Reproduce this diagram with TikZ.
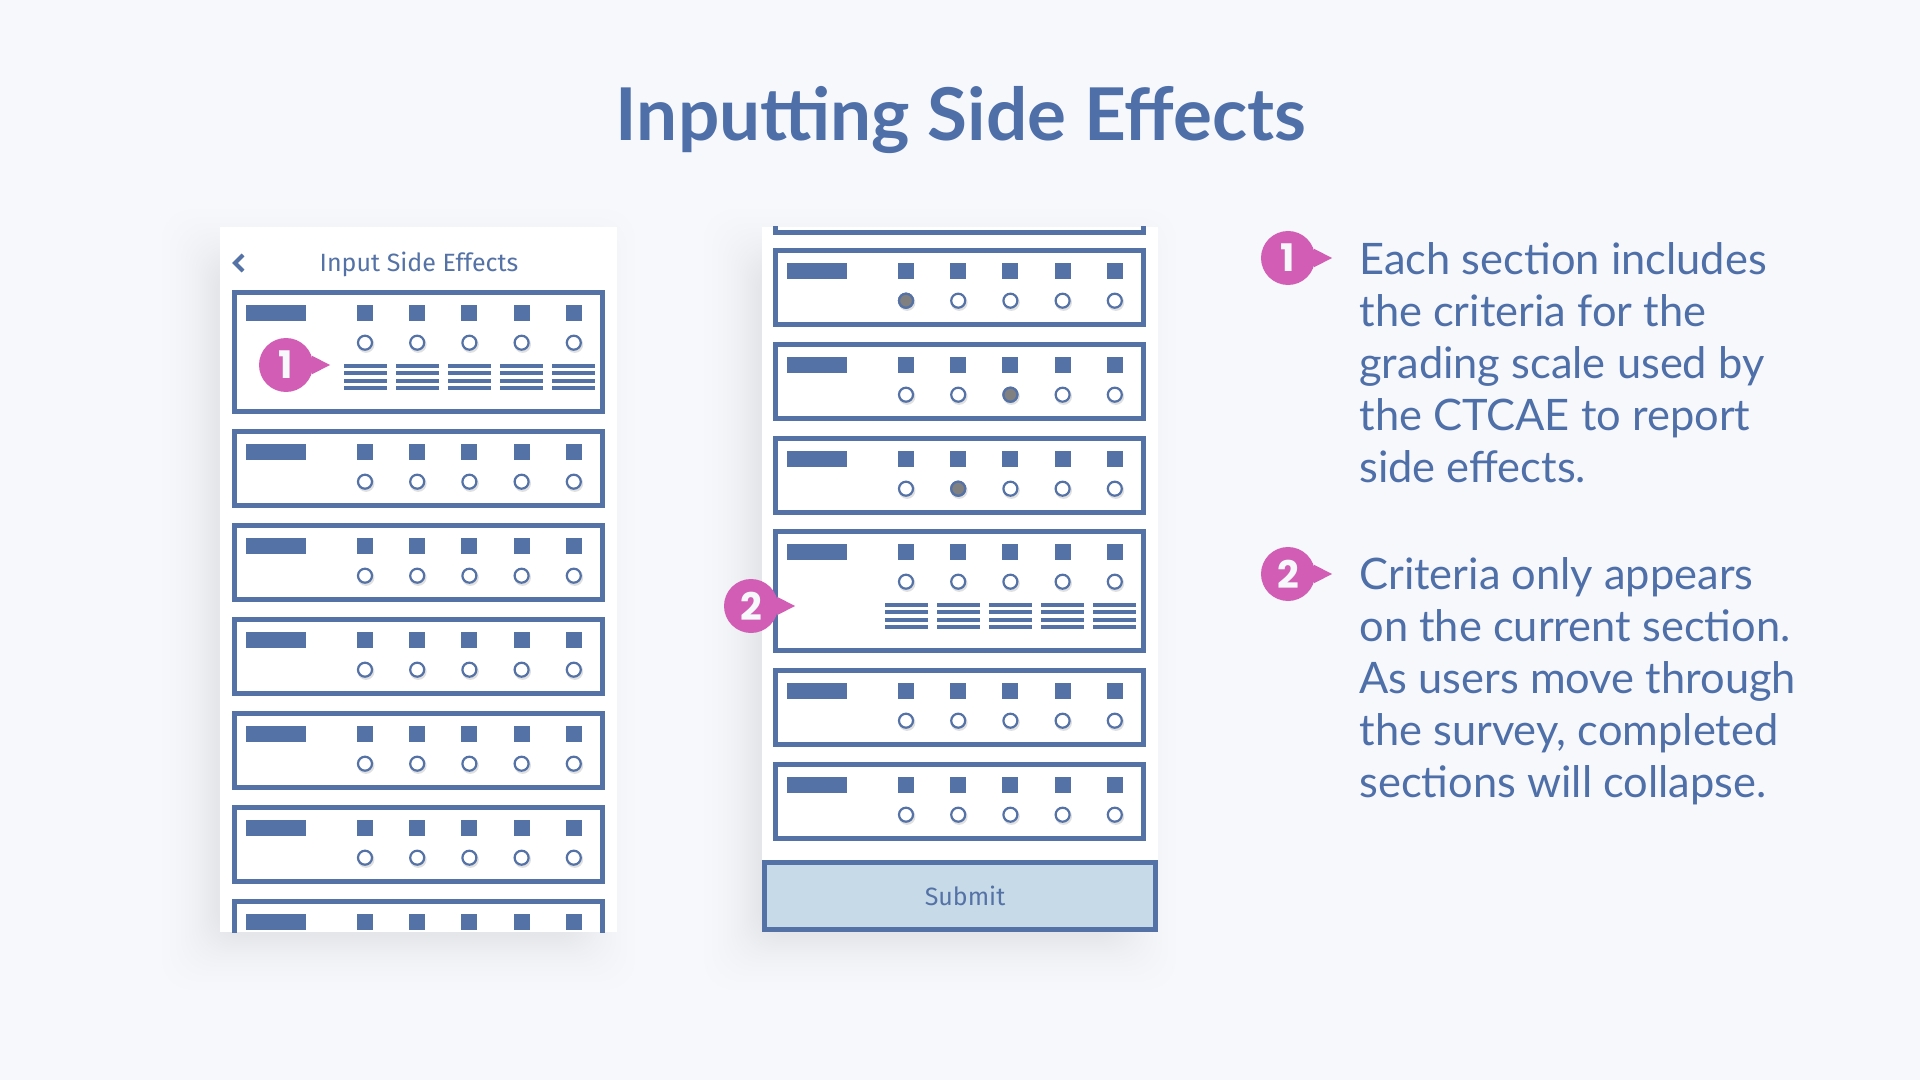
\documentclass[tikz,border=0pt]{standalone}
\usepackage{fontspec}
\setmainfont{Lato}
\newfontfamily\uifont{Fira Sans}
\newfontfamily\badgefont{Poppins}
\definecolor{slate}{HTML}{5472A6}
\definecolor{inktext}{HTML}{4F6FA9}
\definecolor{orchid}{HTML}{D25DB5}
\definecolor{paper}{HTML}{F6F8FC}
\definecolor{buttonblue}{HTML}{C7DAE8}
\definecolor{picked}{HTML}{808080}
\tikzset{
	boxline/.style = {draw = slate, line width = 2.5pt},
	radio/.style = {draw = slate, line width = 1.1pt, fill = white},
	bubble/.style = {circle, fill = orchid, text = paper, minimum size = 27pt, inner sep = 0pt, font = \badgefont\fontsize{19}{19}\selectfont\bfseries},
	bodytext/.style = {anchor = north west, align = left, text = inktext, inner sep = 0pt, font = \fontsize{21.7}{26}\selectfont},
	uitext/.style = {text = slate, inner sep = 0pt, font = \uifont\fontsize{12.5}{12.5}\selectfont}
}
% one survey section: top left corner, inner bottom edge, picked column
\newcommand{\surveybox}[4]{
	\begin{scope}[shift = {(#1,#2)}]
		\draw [boxline] (2.5,2.5) rectangle (370.5,#3);
		\fill [slate] (14,15) rectangle (74,31);
		\foreach \col in {0,...,4} {
			\fill [slate] (125+52.2*\col,15) rectangle +(16,16);
			\fill [black, opacity = .12] (134+52.2*\col,54.5) circle [radius = 4.2pt];
			\draw [radio] (133+52.2*\col,52.7) circle [radius = 3.5pt];
		}
		\ifnum#4>0
			\draw [radio, fill = picked] (133+52.2*#4-52.2,52.7) circle [radius = 3.5pt];
		\fi
	\end{scope}
}
% the four ruled lines of the criteria
\newcommand{\criteria}[2]{
	\begin{scope}[shift = {(#1,#2)}]
		\foreach \col in {0,...,4}
			\foreach \row in {0,...,3}
				\fill [slate] (111.5+52.2*\col,74+7.3*\row) rectangle +(43,4);
	\end{scope}
}
\newcommand{\softshadow}[4]{
	\foreach \s in {-16,-14,-12,-10,-8,-6,-4,-2,0,2,5,8,11,15,19,24,30,38}
		\fill [black, opacity = .0055, rounded corners = 15pt] (#1-\s-20,#2-\s+20) rectangle (#3+\s-20,#4+\s+20);
}
\begin{document}
\begin{tikzpicture}[x = .5pt, y = -.5pt]
	\useasboundingbox [fill = paper] (0,0) rectangle (1920,1080);
	
	\node [text = inktext, font = \fontsize{36.4}{36.4}\selectfont\bfseries] (title) at (961,120) {Inputting Side Effects};
	
	% left screen
	\softshadow{220}{227}{617}{932}
	\fill [white] (220,227) rectangle (617,932);
	\node [uitext] (heading) at (419,264) {Input Side Effects};
	\draw [slate, line width = 2pt] (243,255) -- (235,263) -- (243,271);
	\begin{scope}
		\clip (220,227) rectangle (617,932);
		\surveybox{232}{290}{121.5}{0}
		\criteria{232}{290}
		\foreach \ypos in {429,523,617,711,805,899} {
			\surveybox{232}{\ypos}{76.5}{0}
		}
	\end{scope}
	
	% right screen
	\softshadow{762}{227}{1158}{932}
	\fill [white] (762,227) rectangle (1158,932);
	\begin{scope}
		\clip (762,227) rectangle (1158,932);
		\surveybox{773}{156}{76.5}{0}
	\end{scope}
	\surveybox{773}{248}{76.5}{1}
	\surveybox{773}{342}{76.5}{3}
	\surveybox{773}{436}{76.5}{2}
	\surveybox{773}{529}{121.5}{0}
	\criteria{773}{529}
	\surveybox{773}{668}{76.5}{0}
	\surveybox{773}{762}{76.5}{0}
	\draw [boxline, fill = buttonblue] (764.5,862.5) rectangle (1155.5,929.5);
	\node [uitext] (submit) at (965,896) {Submit};
	
	% callouts on the screens and in the margin
	\foreach \name/\num/\cx/\cy in {inner1/1/286/365, inner2/2/751/606, side1/1/1288/258, side2/2/1288/574} {
		\node [bubble] (\name) at (\cx,\cy) {\num};
		\fill [orchid] (\name.20) -- ([xshift = 22pt]\name.center) -- (\name.-20) -- cycle;
	}
	
	\node [bodytext] (note1) at (1359,242) {Each section includes\\the criteria for the\\grading scale used by\\the CTCAE to report\\side effects.};
	\node [bodytext] (note2) at (1359,557) {Criteria only appears\\on the current section.\\As users move through\\the survey, completed\\sections will collapse.};
\end{tikzpicture}
\end{document}
